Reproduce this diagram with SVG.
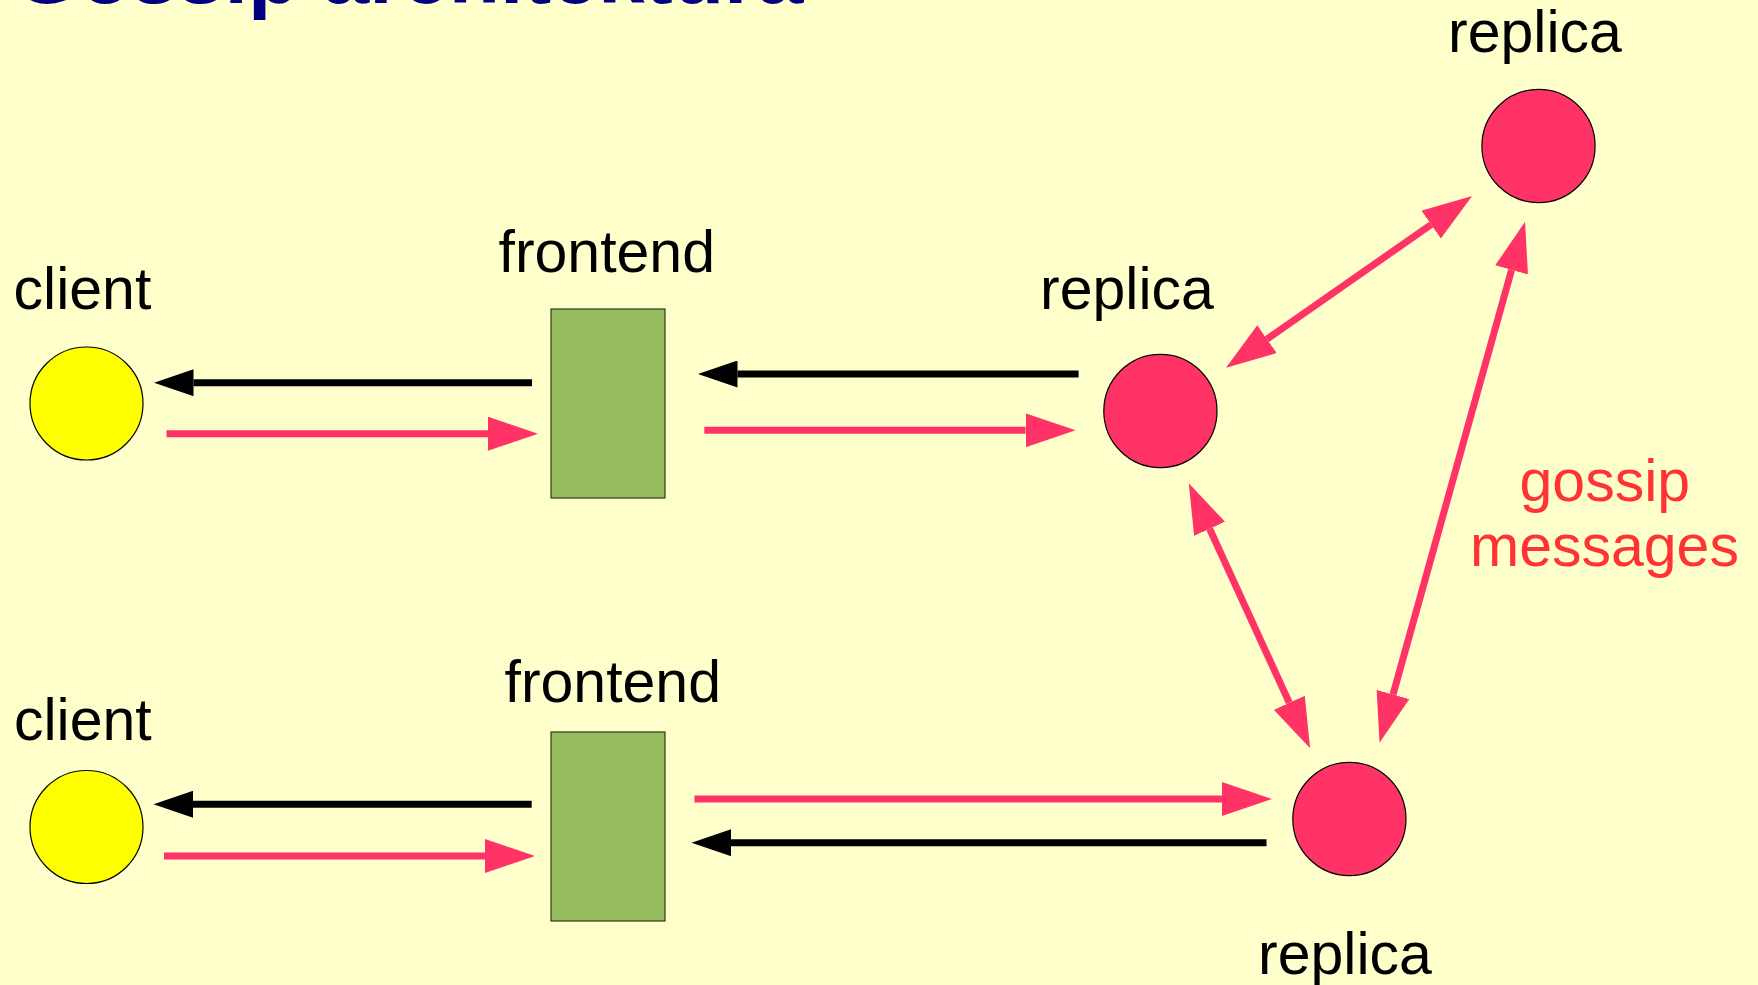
<svg xmlns="http://www.w3.org/2000/svg" width="1758" height="985" viewBox="0 0 1758 985">
  <style>
    .lbl { font-family: "Liberation Sans", Arial, sans-serif; font-size: 59px; fill: #000000; }
    .gossip { font-family: "Liberation Sans", Arial, sans-serif; font-size: 59px; fill: #FF3333; }
    .title { font-family: "Liberation Sans", Arial, sans-serif; font-size: 84px; font-weight: bold; fill: #000080; }
    .client { fill: #FFFF00; stroke: #000000; stroke-width: 1.2; }
    .replica { fill: #FF3366; stroke: #000000; stroke-width: 1.2; }
    .frontend { fill: #96BC5E; stroke: #2E3A1E; stroke-width: 1.2; }
    .blk { stroke: #000000; stroke-width: 7; fill: none; }
    .pnk { stroke: #FF3366; stroke-width: 7; fill: none; }
  </style>
  <defs>
    <marker id="headBlack" markerUnits="userSpaceOnUse" markerWidth="40" markerHeight="27" viewBox="0 0 40 27" refX="0" refY="13.5" orient="auto-start-reverse">
      <path d="M0,0 L39.5,13.5 L0,27 z" fill="#000000"/>
    </marker>
    <marker id="headPink" markerUnits="userSpaceOnUse" markerWidth="51" markerHeight="34" viewBox="0 0 51 34" refX="0" refY="17" orient="auto-start-reverse">
      <path d="M0,0 L50,17 L0,34 z" fill="#FF3366"/>
    </marker>
  </defs>

  <rect x="0" y="0" width="1758" height="985" fill="#FFFFCC"/>

  <text class="title" x="14.5" y="3">Gossip architektura</text>

  <g id="connectors">
    <!-- top row -->
    <line class="blk" x1="532" y1="382.7" x2="193.5" y2="382.7" marker-end="url(#headBlack)"/>
    <line class="pnk" x1="166.5" y1="433.7" x2="488" y2="433.7" marker-end="url(#headPink)"/>
    <line class="blk" x1="1078.6" y1="374" x2="737.5" y2="374" marker-end="url(#headBlack)"/>
    <line class="pnk" x1="704.3" y1="430.3" x2="1025.6" y2="430.3" marker-end="url(#headPink)"/>
    <!-- bottom row -->
    <line class="blk" x1="531.7" y1="804.3" x2="193" y2="804.3" marker-end="url(#headBlack)"/>
    <line class="pnk" x1="164" y1="856" x2="485" y2="856" marker-end="url(#headPink)"/>
    <line class="pnk" x1="694.5" y1="799" x2="1222" y2="799" marker-end="url(#headPink)"/>
    <line class="blk" x1="1266.5" y1="842.7" x2="731" y2="842.7" marker-end="url(#headBlack)"/>
    <!-- gossip -->
    <line class="pnk" x1="1267" y1="339.1" x2="1431.1" y2="224.6" marker-start="url(#headPink)" marker-end="url(#headPink)"/>
    <line class="pnk" x1="1209.6" y1="528.8" x2="1289.3" y2="702.8" marker-start="url(#headPink)" marker-end="url(#headPink)"/>
    <line class="pnk" x1="1393" y1="694.5" x2="1511.6" y2="269.9" marker-start="url(#headPink)" marker-end="url(#headPink)"/>
  </g>

  <g id="client1">
    <circle class="client" cx="86.5" cy="403.5" r="56.5"/>
    <text class="lbl" x="13.6" y="309">client</text>
  </g>
  <g id="client2">
    <circle class="client" cx="86.5" cy="827" r="56.5"/>
    <text class="lbl" x="14" y="740">client</text>
  </g>
  <g id="frontend1">
    <rect class="frontend" x="551" y="309" width="114" height="189"/>
    <text class="lbl" x="498.5" y="271.7">frontend</text>
  </g>
  <g id="frontend2">
    <rect class="frontend" x="551" y="732" width="114" height="189"/>
    <text class="lbl" x="504.5" y="701.7">frontend</text>
  </g>
  <g id="replica1">
    <circle class="replica" cx="1160.4" cy="411" r="56.6"/>
    <text class="lbl" x="1040" y="309.3">replica</text>
  </g>
  <g id="replica2">
    <circle class="replica" cx="1538.5" cy="146" r="56.6"/>
    <text class="lbl" x="1448" y="51.7">replica</text>
  </g>
  <g id="replica3">
    <circle class="replica" cx="1349.4" cy="819" r="56.6"/>
    <text class="lbl" x="1258" y="974">replica</text>
  </g>
  <g id="gossip-label">
    <text class="gossip" x="1519.5" y="501">gossip</text>
    <text class="gossip" x="1470" y="566">messages</text>
  </g>
</svg>
